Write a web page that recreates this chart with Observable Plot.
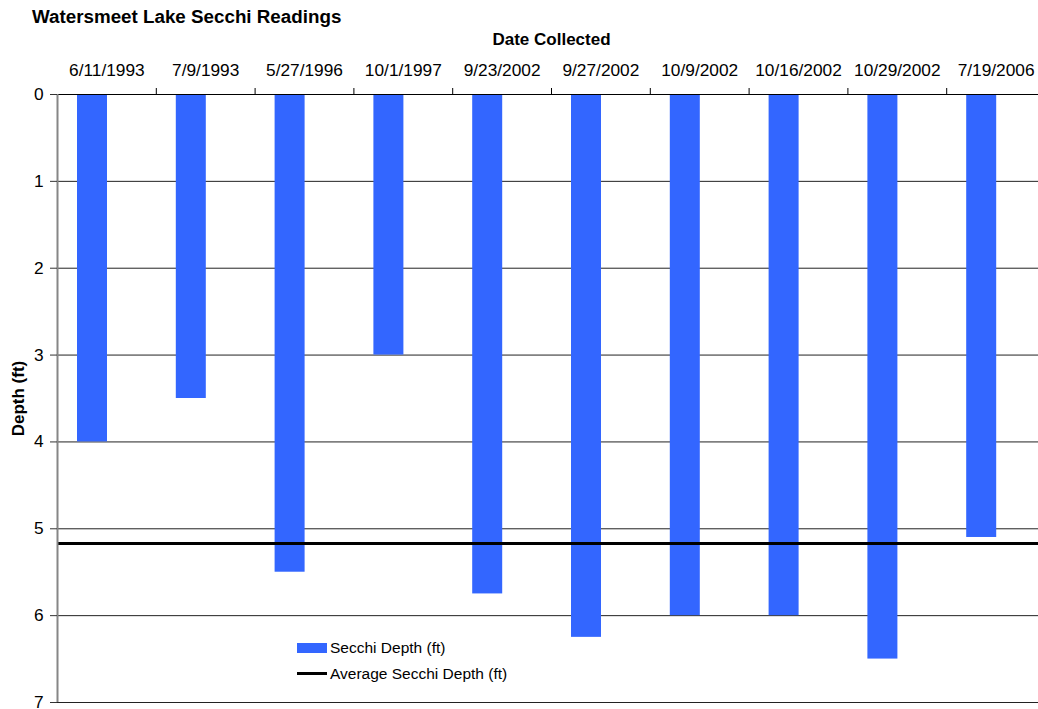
<!DOCTYPE html>
<html>
<head>
<meta charset="utf-8">
<script src="https://cdn.jsdelivr.net/npm/d3@7"></script>
<script src="https://cdn.jsdelivr.net/npm/@observablehq/plot@0.6"></script>
<style>
  html, body { margin: 0; padding: 0; background: #fff; overflow: hidden; }
  #wrap { position: relative; width: 1038px; height: 709px; overflow: hidden; font-family: "Liberation Sans", Arial, sans-serif; color: #000; }
  #title { position: absolute; left: 32px; top: 8px; font-size: 18.8px; font-weight: bold; line-height: 18px; white-space: nowrap; }
  #chart { position: absolute; left: 0; top: 30px; }
  #chart svg { overflow: visible; display: block; }
  #legend { position: absolute; left: 297px; top: 640px; font-size: 15.5px; line-height: 15.5px; }
  .li { position: relative; height: 26px; }
  .sw-bar { position: absolute; left: 0; top: 3px; width: 30px; height: 10px; background: #3366ff; }
  .sw-line { position: absolute; left: 0; top: 6px; width: 30px; height: 3px; background: #000; }
  .lt { position: absolute; left: 33px; top: 0; white-space: nowrap; }
</style>
</head>
<body>
<div id="wrap">
  <div id="title">Watersmeet Lake Secchi Readings</div>
  <div id="chart"></div>
  <div id="legend">
    <div class="li"><span class="sw-bar"></span><span class="lt">Secchi Depth (ft)</span></div>
    <div class="li"><span class="sw-line"></span><span class="lt">Average Secchi Depth (ft)</span></div>
  </div>
</div>
<script>
const dates = ["6/11/1993", "7/9/1993", "5/27/1996", "10/1/1997", "9/23/2002", "9/27/2002", "10/9/2002", "10/16/2002", "10/29/2002", "7/19/2006"];
const secchiDepth = [4, 3.5, 5.5, 3, 5.75, 6.25, 6, 6, 6.5, 5.1];
const averageDepth = 5.17;
const yTicks = [0, 1, 2, 3, 4, 5, 6, 7];

const data = dates.map((d, i) => ({date: d, depth: secchiDepth[i]}));

const W = 1038, H = 679;
const mL = 57, mR = -7, mT = 64, mB = 7;
const bw = (W - mR - mL) / dates.length;
const font = "Liberation Sans, Arial, sans-serif";

const chart = Plot.plot({
  width: W,
  height: H,
  marginLeft: mL,
  marginRight: mR,
  marginTop: mT,
  marginBottom: mB,
  style: {fontFamily: font, fontSize: "17px", color: "#000", background: "#fff", overflow: "visible"},
  x: {type: "band", domain: dates, padding: 0, round: false, range: [mL, W - mR], axis: null},
  y: {domain: [0, 7], range: [mT, H - mB], axis: null},
  marks: [
    // gridlines
    Plot.ruleY(yTicks.slice(1), {stroke: "#222", strokeWidth: 1}),
    // bars
    Plot.barY(data, {x: "date", y1: 0, y2: "depth", fill: "#3366ff", insetLeft: 20, insetRight: bw - 50}),
    // average line
    Plot.ruleY([averageDepth], {stroke: "#000", strokeWidth: 3}),
    // top axis line
    Plot.ruleY([0], {stroke: "#000", strokeWidth: 1}),
    // top category boundary ticks
    Plot.ruleX(dates.slice(1), {x: d => d, y1: 0, y2: 0, insetTop: -6, dx: -bw / 2, stroke: "#000", strokeWidth: 1}),
    // left axis line
    Plot.ruleX([dates[0]], {x: d => d, dx: -bw / 2, stroke: "#868686", strokeWidth: 2}),
    // y axis ticks + labels
    Plot.axisY(yTicks, {anchor: "left", tickSize: 7, tickPadding: 7, tickFormat: d3.format("d"), stroke: "#333", fontSize: 17.3, fill: "#000", label: null}),
    // x tick labels (top)
    Plot.text(dates, {x: d => d, frameAnchor: "top", lineAnchor: "bottom", dy: -19, fontSize: 17.3, fill: "#000"}),
    // x axis title
    Plot.text(["Date Collected"], {frameAnchor: "top", textAnchor: "middle", lineAnchor: "bottom", dy: -50, fontSize: 17, fontWeight: "bold", fill: "#000"}),
    // y axis title
    Plot.text(["Depth (ft)"], {frameAnchor: "left", textAnchor: "middle", rotate: -90, lineAnchor: "bottom", dx: -34, fontSize: 17, fontWeight: "bold", fill: "#000"})
  ]
});
document.getElementById("chart").appendChild(chart);
</script>
</body>
</html>
